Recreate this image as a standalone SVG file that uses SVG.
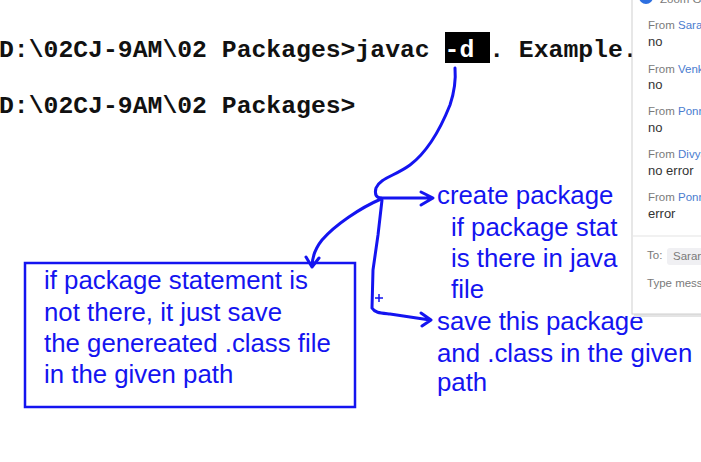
<svg xmlns="http://www.w3.org/2000/svg" width="701" height="462" viewBox="0 0 701 462">
<style>
.term{font-family:"Liberation Mono","DejaVu Sans Mono",monospace;font-weight:bold;font-size:24.75px;fill:#111}
.note{font-family:"Liberation Sans",Arial,sans-serif;font-size:25.8px;fill:#1414f0}
.ink{fill:none;stroke:#1414f0;stroke-width:3;stroke-linecap:round;stroke-linejoin:round}
.from{font-family:"Liberation Sans",Arial,sans-serif;font-size:11.5px;fill:#7a7a7a}
.name{fill:#4a7ccf}
.msg{font-family:"Liberation Sans",Arial,sans-serif;font-size:13px;fill:#333}
</style>
<rect width="701" height="462" fill="#ffffff"/>
<g id="terminal">
<rect x="445" y="32" width="45" height="31" fill="#000"/>
<text class="term" x="-1" y="57" xml:space="preserve">D:\02CJ-9AM\02 Packages&gt;javac <tspan fill="#fff">-d</tspan> . Example.</text>
<text class="term" x="-1" y="113">D:\02CJ-9AM\02 Packages&gt;</text>
</g>
<g id="connectors">
<path class="ink" d="M455,68 C456,80 455,90 450,105 C442,125 430,150 410,165 C395,176 380,178 376,188 C374,195 377,198 381,198"/>
<path class="ink" d="M381,198 L432,198 M421,192 L433,198 L421,205"/>
<path class="ink" d="M381,199 C360,208 335,225 322,240 C314,250 312,258 312,267 M306,257 L312,267 L319,258"/>
<path class="ink" d="M382,200 L378,235 L373,270 L372,308 C375,313 380,313 390,314 L430,320 M421,313 L431,320 L422,326"/>
<path d="M375,298 L383,298 M379,294 L379,302" fill="none" stroke="#1414f0" stroke-width="1.5"/>
</g>
<g id="box-no-package">
<rect x="25" y="263" width="330" height="144" fill="none" stroke="#1414f0" stroke-width="2.5"/>
<text class="note" x="44" y="289">if package statement is</text>
<text class="note" x="44" y="321">not there, it just save</text>
<text class="note" x="44" y="352">the genereated .class file</text>
<text class="note" x="44" y="383">in the given path</text>
</g>
<g id="note-create">
<text class="note" x="437" y="204">create package</text>
<text class="note" x="451" y="236">if package stat</text>
<text class="note" x="451" y="267">is there in java</text>
<text class="note" x="451" y="298">file</text>
</g>
<g id="note-save">
<text class="note" x="437" y="330">save this package</text>
<text class="note" x="437" y="362">and .class in the given</text>
<text class="note" x="437" y="391">path</text>
</g>
<g id="chat-panel">
<rect x="634" y="-2" width="75" height="319" fill="#e4e4e4"/>
<rect x="632" y="-2" width="75" height="316" fill="#ffffff" stroke="#cfcfcf" stroke-width="1"/>
<circle cx="646" cy="-3" r="7" fill="#2d6fe0"/>
<text class="from" x="660" y="3">Zoom Gro</text>
<text class="from" x="648" y="29">From <tspan class="name">Saranya</tspan></text>
<text class="msg" x="648" y="46">no</text>
<text class="from" x="648" y="73">From <tspan class="name">Venkat</tspan></text>
<text class="msg" x="648" y="89">no</text>
<text class="from" x="648" y="115">From <tspan class="name">Ponnaiah</tspan></text>
<text class="msg" x="648" y="132">no</text>
<text class="from" x="648" y="158">From <tspan class="name">Divya</tspan></text>
<text class="msg" x="648" y="175">no error</text>
<text class="from" x="648" y="201">From <tspan class="name">Ponnaiah</tspan></text>
<text class="msg" x="648" y="218">error</text>
<line x1="633" y1="236" x2="701" y2="236" stroke="#e3e3e3" stroke-width="1"/>
<text class="from" x="647" y="259">To:</text>
<rect x="667" y="248" width="40" height="17" rx="3" fill="#f0f0f3"/>
<text class="from" x="673" y="260" fill="#444">Sarang</text>
<text class="from" x="647" y="287" fill="#9a9a9a">Type message</text>
</g>
</svg>
